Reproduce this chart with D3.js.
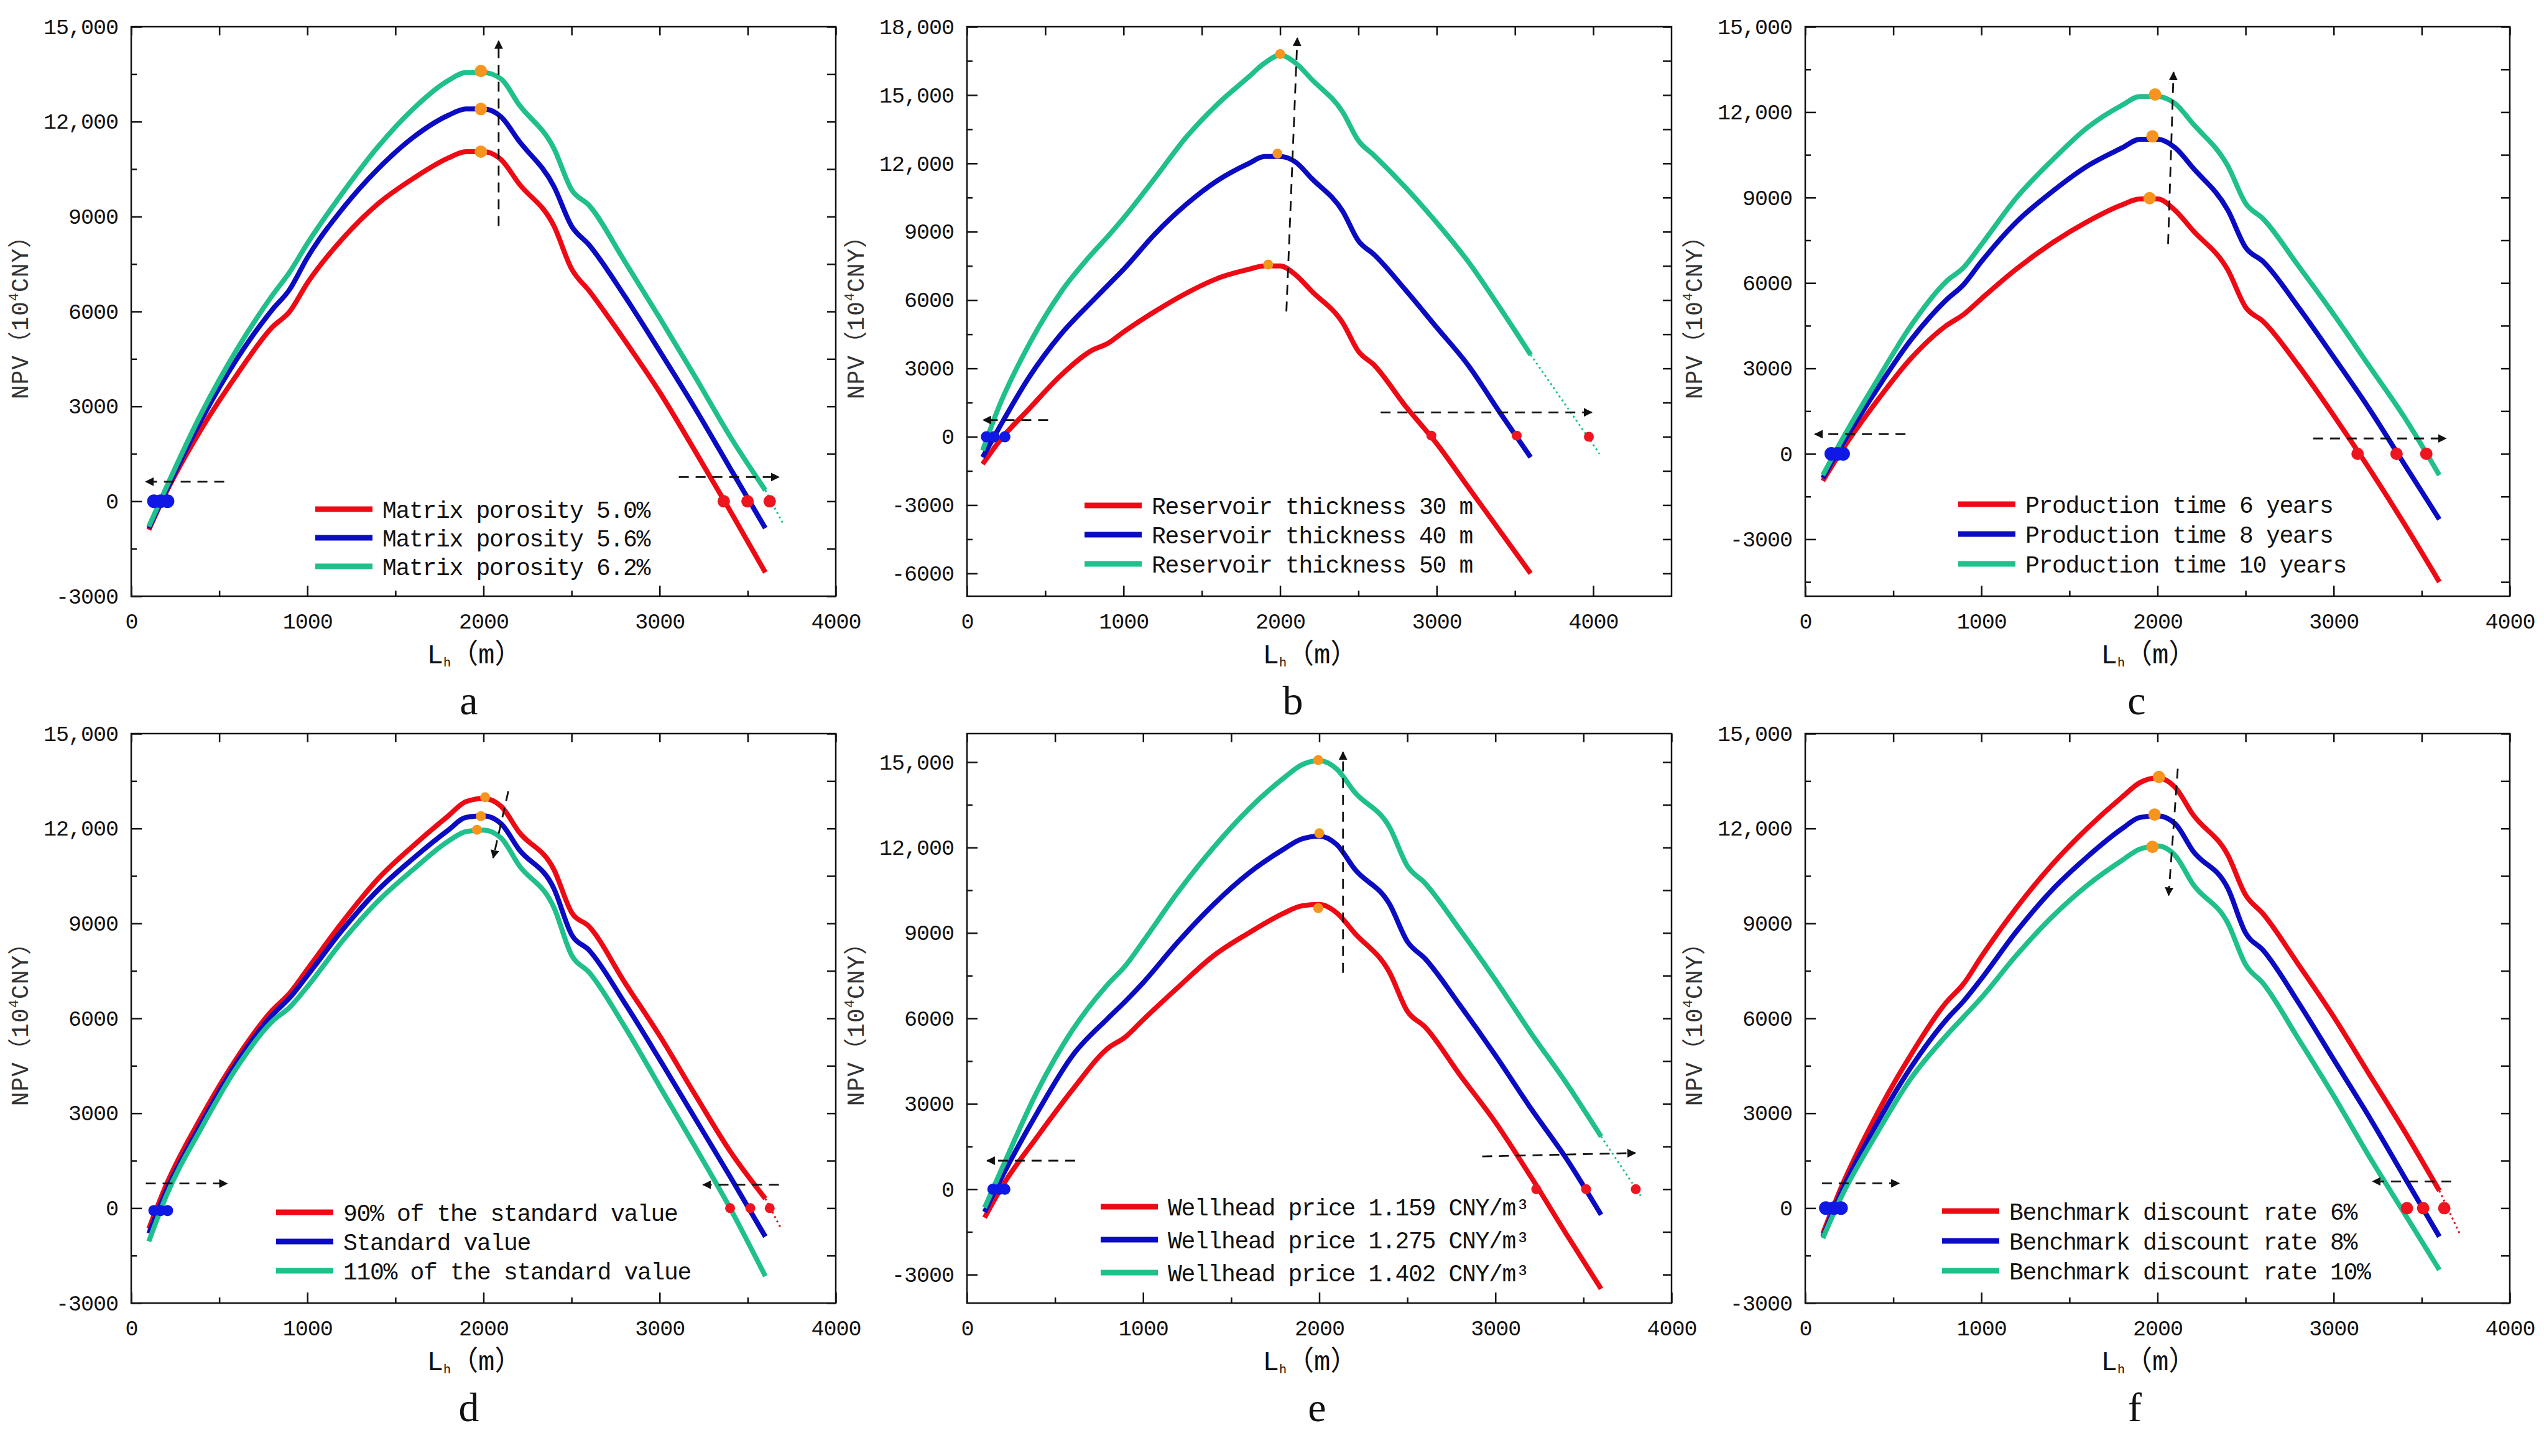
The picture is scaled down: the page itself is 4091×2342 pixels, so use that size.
<!DOCTYPE html>
<html>
<head>
<meta charset="utf-8">
<script src="https://cdn.jsdelivr.net/npm/d3@7"></script>
<style>
  body { margin: 0; background: #fff; }
  text { fill: #111; }
</style>
</head>
<body>
<div id="container"></div>
<script>
/* CONSTANTS AND GLOBALS */
const width = 4091,
  height = 2342;

// horizontal well length (m) where NPV was read
const lengths = [100, 200, 400, 600, 800, 900, 1000, 1200, 1400, 1600, 1800, 1900, 2000, 2100, 2200, 2400, 2500, 2600, 2800, 3000, 3200, 3400, 3600];

// a - matrix porosity
const npvPorosity50 = [-900, 300, 2300, 4000, 5500, 6000, 6900, 8300, 9400, 10200, 10850, 11050, 11050, 10800, 10050, 8700, 7350, 6650, 5100, 3450, 1600, -300, -2250];
const npvPorosity56 = [-850, 350, 2600, 4500, 6050, 6700, 7700, 9250, 10500, 11500, 12200, 12400, 12400, 12150, 11400, 9950, 8700, 8100, 6500, 4750, 2950, 1050, -850];
const npvPorosity62 = [-800, 450, 2800, 4800, 6500, 7250, 8150, 9750, 11200, 12400, 13300, 13550, 13550, 13350, 12550, 11150, 9850, 9350, 7600, 5800, 3950, 2050, 350];

// b - reservoir thickness
const npvThick30 = [-1200, -250, 1250, 2700, 3800, 4100, 4600, 5500, 6300, 6950, 7350, 7500, 7500, 7100, 6400, 5000, 3750, 3150, 1350, -300, -2200, -4100, -6000];
const npvThick40 = [-900, 330, 2650, 4500, 5950, 6650, 7350, 8900, 10200, 11250, 12000, 12300, 12300, 12050, 11350, 9900, 8600, 8000, 6450, 4800, 3150, 1100, -900];
const npvThick50 = [-600, 1250, 4100, 6350, 8050, 8800, 9600, 11350, 13150, 14600, 15800, 16400, 16750, 16400, 15700, 14250, 13000, 12350, 10950, 9400, 7700, 5700, 3600];

// c - production time
const npvTime6 = [-950, 50, 1800, 3350, 4500, 4900, 5450, 6500, 7400, 8150, 8750, 8950, 8950, 8550, 7850, 6450, 5150, 4650, 3100, 1350, -500, -2450, -4500];
const npvTime8 = [-850, 230, 2200, 4000, 5400, 5950, 6750, 8150, 9200, 10100, 10750, 11050, 11050, 10750, 10050, 8550, 7250, 6750, 5150, 3400, 1600, -350, -2300];
const npvTime10 = [-750, 400, 2500, 4500, 6050, 6550, 7350, 9000, 10300, 11450, 12250, 12550, 12550, 12300, 11600, 10100, 8800, 8250, 6600, 4900, 3100, 1300, -750];

// d - cost relative to standard value
const npvStd90 = [-650, 750, 2900, 4750, 6250, 6800, 7550, 9050, 10400, 11450, 12400, 12850, 12950, 12700, 11900, 10700, 9350, 8900, 7150, 5450, 3600, 1800, 300];
const npvStd100 = [-800, 550, 2700, 4600, 6100, 6650, 7350, 8800, 10050, 11050, 11950, 12350, 12400, 12150, 11350, 10100, 8650, 8150, 6500, 4700, 2850, 1000, -900];
const npvStd110 = [-1050, 400, 2550, 4450, 5900, 6350, 7000, 8450, 9700, 10700, 11600, 11900, 11950, 11700, 10850, 9500, 8000, 7450, 5750, 3850, 1950, 0, -2150];

// e - wellhead price
const npvPrice1159 = [-1000, 100, 1850, 3500, 4950, 5350, 5950, 7100, 8200, 9000, 9700, 9950, 10000, 9700, 9000, 7600, 6250, 5700, 4000, 2350, 450, -1550, -3500];
const npvPrice1275 = [-800, 450, 2700, 4700, 6000, 6600, 7250, 8700, 10000, 11100, 11950, 12300, 12400, 12100, 11250, 10000, 8700, 8100, 6450, 4700, 2850, 1100, -900];
const npvPrice1402 = [-650, 750, 3450, 5600, 7200, 7850, 8700, 10450, 12000, 13350, 14450, 14900, 15050, 14750, 13950, 12700, 11350, 10750, 9100, 7350, 5500, 3750, 1850];

// f - benchmark discount rate
const npvRate6 = [-800, 600, 2900, 4850, 6500, 7100, 7950, 9500, 10850, 12000, 13000, 13450, 13600, 13300, 12450, 11150, 9900, 9300, 7700, 6050, 4250, 2450, 550];
const npvRate8 = [-900, 450, 2600, 4450, 5950, 6550, 7250, 8750, 10050, 11100, 12000, 12350, 12400, 12150, 11300, 10100, 8700, 8150, 6500, 4700, 2900, 1000, -900];
const npvRate10 = [-950, 300, 2300, 4100, 5450, 6050, 6650, 8000, 9200, 10200, 11000, 11350, 11450, 11150, 10250, 9000, 7700, 7100, 5350, 3550, 1650, -150, -1950];

// legend labels
const legendA = ["Matrix porosity 5.0%", "Matrix porosity 5.6%", "Matrix porosity 6.2%"];
const legendB = ["Reservoir thickness 30 m", "Reservoir thickness 40 m", "Reservoir thickness 50 m"];
const legendC = ["Production time 6 years", "Production time 8 years", "Production time 10 years"];
const legendD = ["90% of the standard value", "Standard value", "110% of the standard value"];
const legendE = ["Wellhead price 1.159 CNY/m³", "Wellhead price 1.275 CNY/m³", "Wellhead price 1.402 CNY/m³"];
const legendF = ["Benchmark discount rate 6%", "Benchmark discount rate 8%", "Benchmark discount rate 10%"];

const panelLetters = ["a", "b", "c", "d", "e", "f"];

// axis extents
const xMaxes = [4000, 4500, 4000, 4000, 4000, 4000];
const yDomains = [[-3000, 15000], [-7000, 18000], [-5000, 15000], [-3000, 15000], [-4000, 16000], [-3000, 15000]];

// optimum points (orange), [length, npv]
const peaksA = [[1985, 11050], [1985, 12400], [1985, 13600]];
const peaksB = [[1924, 7560], [1983, 12430], [2000, 16800]];
const peaksC = [[1955, 8980], [1971, 11150], [1986, 12620]];
const peaksD = [[2009, 12990], [1985, 12390], [1963, 11960]];
const peaksE = [[1994, 9870], [2000, 12500], [1994, 15070]];
const peaksF = [[2008, 13630], [1983, 12440], [1971, 11420]];

// lower economic limit (blue) and upper limit (red), [length, npv]
const lowLimits = [
  [[129, 0], [166, 0], [206, 0]],
  [[124, 0], [173, 0], [242, 0]],
  [[148, 0], [184, 0], [215, 0]],
  [[129, -75], [166, -75], [206, -75]],
  [[147, 0], [184, 0], [215, 0]],
  [[117, 0], [163, 0], [203, 0]]
];
const highLimits = [
  [[3364, 0], [3499, 0], [3625, 0]],
  [[2966, 50], [3511, 50], [3972, 0]],
  [[3136, 0], [3357, 0], [3526, 0]],
  [[3400, 0], [3515, 0], [3625, 0]],
  [[3232, 0], [3515, 0], [3797, 0]],
  [[3416, 0], [3508, 0], [3628, 0]]
];

// dotted extrapolation beyond 3600 m: [series index, [x0, y0], [x1, y1]]
const extensions = [
  [2, [3600, 350], [3700, -700]],
  [2, [3600, 3600], [4040, -750]],
  null,
  [0, [3600, 300], [3690, -650]],
  [2, [3600, 1850], [3825, -230]],
  [0, [3600, 550], [3715, -800]]
];

// dashed trend arrows: [x0, y0, x1, y1], head at (x1, y1)
const arrowsA = [[2086, 8700, 2086, 14550], [528, 620, 83, 620], [3109, 766, 3677, 766]];
const arrowsB = [[2040, 5500, 2110, 17500], [518, 734, 104, 734], [2642, 1070, 3990, 1070]];
const arrowsC = [[2060, 7370, 2091, 13400], [569, 690, 55, 690], [2884, 540, 3637, 540]];
const arrowsD = [[2141, 13180, 2055, 11070], [83, 780, 544, 780], [3677, 740, 3247, 740]];
const arrowsE = [[2135, 7600, 2135, 15350], [614, 1000, 114, 1000], [2925, 1150, 3794, 1270]];
const arrowsF = [[2115, 13890, 2063, 9890], [95, 785, 532, 785], [3668, 845, 3222, 845]];

const colors = ["#ee0a14", "#0b0bc4", "#1fc08c"];
const orange = "#f7941d";

// layout
const colX = [211, 1555, 2903],
  plotW = 1133,
  rowY = [43, 1180],
  plotH = 916;

// legend [dx, dy, row gap] from plot top-left
const legendPos = [[296, 776, 46], [189, 770, 47], [246, 768, 48], [233, 770, 47], [215, 761, 53], [220, 768, 48]];
const letterX = [543, 524, 533, 543, 563, 530];
const markerR = [10, 8, 10, 8, 8, 10];

const tickFont = "'Liberation Mono', 'DejaVu Sans Mono', monospace";
const cjkFont = "'Liberation Mono', 'Noto Sans CJK SC', monospace";

// build panel objects from the arrays above
const panels = [
  { series: [npvPorosity50, npvPorosity56, npvPorosity62], legend: legendA, peaks: peaksA, arrows: arrowsA },
  { series: [npvThick30, npvThick40, npvThick50], legend: legendB, peaks: peaksB, arrows: arrowsB },
  { series: [npvTime6, npvTime8, npvTime10], legend: legendC, peaks: peaksC, arrows: arrowsC },
  { series: [npvStd90, npvStd100, npvStd110], legend: legendD, peaks: peaksD, arrows: arrowsD },
  { series: [npvPrice1159, npvPrice1275, npvPrice1402], legend: legendE, peaks: peaksE, arrows: arrowsE },
  { series: [npvRate6, npvRate8, npvRate10], legend: legendF, peaks: peaksF, arrows: arrowsF }
];

/* INITIALIZING FUNCTION */
const svg = d3.select("#container")
  .append("svg")
  .attr("width", width)
  .attr("height", height);

svg.append("rect").attr("width", width).attr("height", height).attr("fill", "#fff");

svg.append("defs").append("marker")
  .attr("id", "head")
  .attr("viewBox", "0 0 10 10")
  .attr("refX", 9)
  .attr("refY", 5)
  .attr("markerWidth", 5)
  .attr("markerHeight", 5)
  .attr("orient", "auto")
  .append("path")
  .attr("d", "M0,0 L10,5 L0,10 z")
  .attr("fill", "#111");

const fmtY = d => Math.abs(d) >= 10000 ? d3.format(",")(d) : String(d);

panels.forEach((p, i) => draw(p, i));

/* DRAW FUNCTION */
function draw(p, i) {
  const left = colX[i % 3],
    top = rowY[Math.floor(i / 3)];

  const xScale = d3.scaleLinear().domain([0, xMaxes[i]]).range([0, plotW]);
  const yScale = d3.scaleLinear().domain(yDomains[i]).range([plotH, 0]);

  const g = svg.append("g").attr("transform", `translate(${left},${top})`);

  // + TICKS
  const [y0, y1] = yDomains[i];
  const yMajor = d3.range(Math.ceil(y0 / 3000) * 3000, y1 + 1, 3000);
  const yMinor = d3.range(Math.ceil((y0 - 1500) / 3000) * 3000 + 1500, y1, 3000).filter(v => v > y0 && v < y1);
  const xMajor = d3.range(0, xMaxes[i] + 1, 1000);
  const xMinor = d3.range(500, xMaxes[i], 1000);

  const styleAxis = sel => {
    sel.select(".domain").remove();
    sel.selectAll("line").attr("stroke", "#111").attr("stroke-width", 2.5);
    sel.selectAll("text")
      .attr("font-family", tickFont)
      .attr("font-size", 35)
      .attr("letter-spacing", -1)
      .attr("fill", "#222");
  };

  g.append("g").attr("transform", `translate(0,${plotH})`)
    .call(d3.axisBottom(xScale).tickValues(xMajor).tickSize(-17).tickPadding(27).tickFormat(d3.format("d")))
    .call(styleAxis);
  g.append("g").attr("transform", `translate(0,${plotH})`)
    .call(d3.axisBottom(xScale).tickValues(xMinor).tickSize(-9).tickFormat(""))
    .call(styleAxis);
  g.append("g")
    .call(d3.axisTop(xScale).tickValues(xMajor.concat(xMinor)).tickSize(-14).tickFormat(""))
    .call(styleAxis);

  g.append("g")
    .call(d3.axisLeft(yScale).tickValues(yMajor).tickSize(-17).tickPadding(21).tickFormat(fmtY))
    .call(styleAxis);
  g.append("g")
    .call(d3.axisLeft(yScale).tickValues(yMinor).tickSize(-9).tickFormat(""))
    .call(styleAxis);
  g.append("g").attr("transform", `translate(${plotW},0)`)
    .call(d3.axisRight(yScale).tickValues(yMajor.concat(yMinor)).tickSize(-14).tickFormat(""))
    .call(styleAxis);

  g.append("rect")
    .attr("width", plotW)
    .attr("height", plotH)
    .attr("fill", "none")
    .attr("stroke", "#111")
    .attr("stroke-width", 2.5);

  // + AXIS TITLES
  const xt = g.append("text")
    .attr("x", 552)
    .attr("y", plotH + 108)
    .attr("text-anchor", "middle")
    .attr("font-family", cjkFont)
    .attr("font-size", 44);
  xt.append("tspan").text("L");
  xt.append("tspan").attr("font-size", 20).attr("dy", 5).text("h");
  xt.append("tspan").attr("dy", -5).text("（m）");

  const yt = g.append("text")
    .attr("transform", `translate(${-166},${plotH / 2}) rotate(-90)`)
    .attr("text-anchor", "middle")
    .attr("font-family", cjkFont)
    .attr("font-size", 38)
    .attr("letter-spacing", 1);
  yt.append("tspan").attr("fill", "#333").text("NPV（10");
  yt.append("tspan").attr("font-size", 22).attr("dy", -16).attr("fill", "#333").text("4");
  yt.append("tspan").attr("dy", 16).attr("fill", "#333").text("CNY）");

  g.append("text")
    .attr("x", letterX[i])
    .attr("y", plotH + 190)
    .attr("text-anchor", "middle")
    .attr("font-family", "'Liberation Serif', 'DejaVu Serif', serif")
    .attr("font-size", 66)
    .text(panelLetters[i]);

  // + CURVES
  const line = d3.line()
    .x(d => xScale(d[0]))
    .y(d => yScale(d[1]))
    .curve(d3.curveMonotoneX);

  const clip = `clip${i}`;
  g.append("clipPath").attr("id", clip)
    .append("rect").attr("width", plotW).attr("height", plotH);

  const plot = g.append("g").attr("clip-path", `url(#${clip})`);

  const ext = extensions[i];
  if (ext) {
    plot.append("path")
      .attr("d", d3.line().x(d => xScale(d[0])).y(d => yScale(d[1]))([ext[1], ext[2]]))
      .attr("fill", "none")
      .attr("stroke", colors[ext[0]])
      .attr("stroke-width", 3)
      .attr("stroke-dasharray", "3,5");
  }

  plot.selectAll("path.curve")
    .data(p.series)
    .join("path")
    .attr("class", "curve")
    .attr("d", s => line(s.map((v, k) => [lengths[k], v])))
    .attr("fill", "none")
    .attr("stroke", (s, k) => colors[k])
    .attr("stroke-width", 8)
    .attr("stroke-linejoin", "round");

  // + DASHED TREND ARROWS
  plot.selectAll("line.arrow")
    .data(p.arrows)
    .join("line")
    .attr("class", "arrow")
    .attr("x1", d => xScale(d[0]))
    .attr("y1", d => yScale(d[1]))
    .attr("x2", d => xScale(d[2]))
    .attr("y2", d => yScale(d[3]))
    .attr("stroke", "#111")
    .attr("stroke-width", 2.8)
    .attr("stroke-dasharray", "16,11")
    .attr("marker-end", "url(#head)");

  // + POINT MARKERS
  plot.selectAll("circle.low")
    .data(lowLimits[i])
    .join("circle")
    .attr("class", "low")
    .attr("cx", d => xScale(d[0]))
    .attr("cy", d => yScale(d[1]))
    .attr("r", markerR[i] + 1)
    .attr("fill", "#1018e6");

  plot.selectAll("circle.high")
    .data(highLimits[i])
    .join("circle")
    .attr("class", "high")
    .attr("cx", d => xScale(d[0]))
    .attr("cy", d => yScale(d[1]))
    .attr("r", markerR[i])
    .attr("fill", "#ee1520");

  plot.selectAll("circle.peak")
    .data(p.peaks)
    .join("circle")
    .attr("class", "peak")
    .attr("cx", d => xScale(d[0]))
    .attr("cy", d => yScale(d[1]))
    .attr("r", markerR[i])
    .attr("fill", orange);

  // + LEGEND
  const [lx, ly, gap] = legendPos[i];
  const lg = g.append("g").attr("transform", `translate(${lx},${ly})`);
  const row = lg.selectAll("g.row")
    .data(p.legend)
    .join("g")
    .attr("class", "row")
    .attr("transform", (d, k) => `translate(0,${k * gap})`);
  row.append("line")
    .attr("x1", 0).attr("x2", 92)
    .attr("stroke", (d, k) => colors[k])
    .attr("stroke-width", 9);
  row.append("text")
    .attr("x", 108)
    .attr("dy", "0.36em")
    .attr("font-family", tickFont)
    .attr("font-size", 38)
    .attr("letter-spacing", -1.3)
    .attr("fill", "#222")
    .text(d => d);
}
</script>
</body>
</html>
